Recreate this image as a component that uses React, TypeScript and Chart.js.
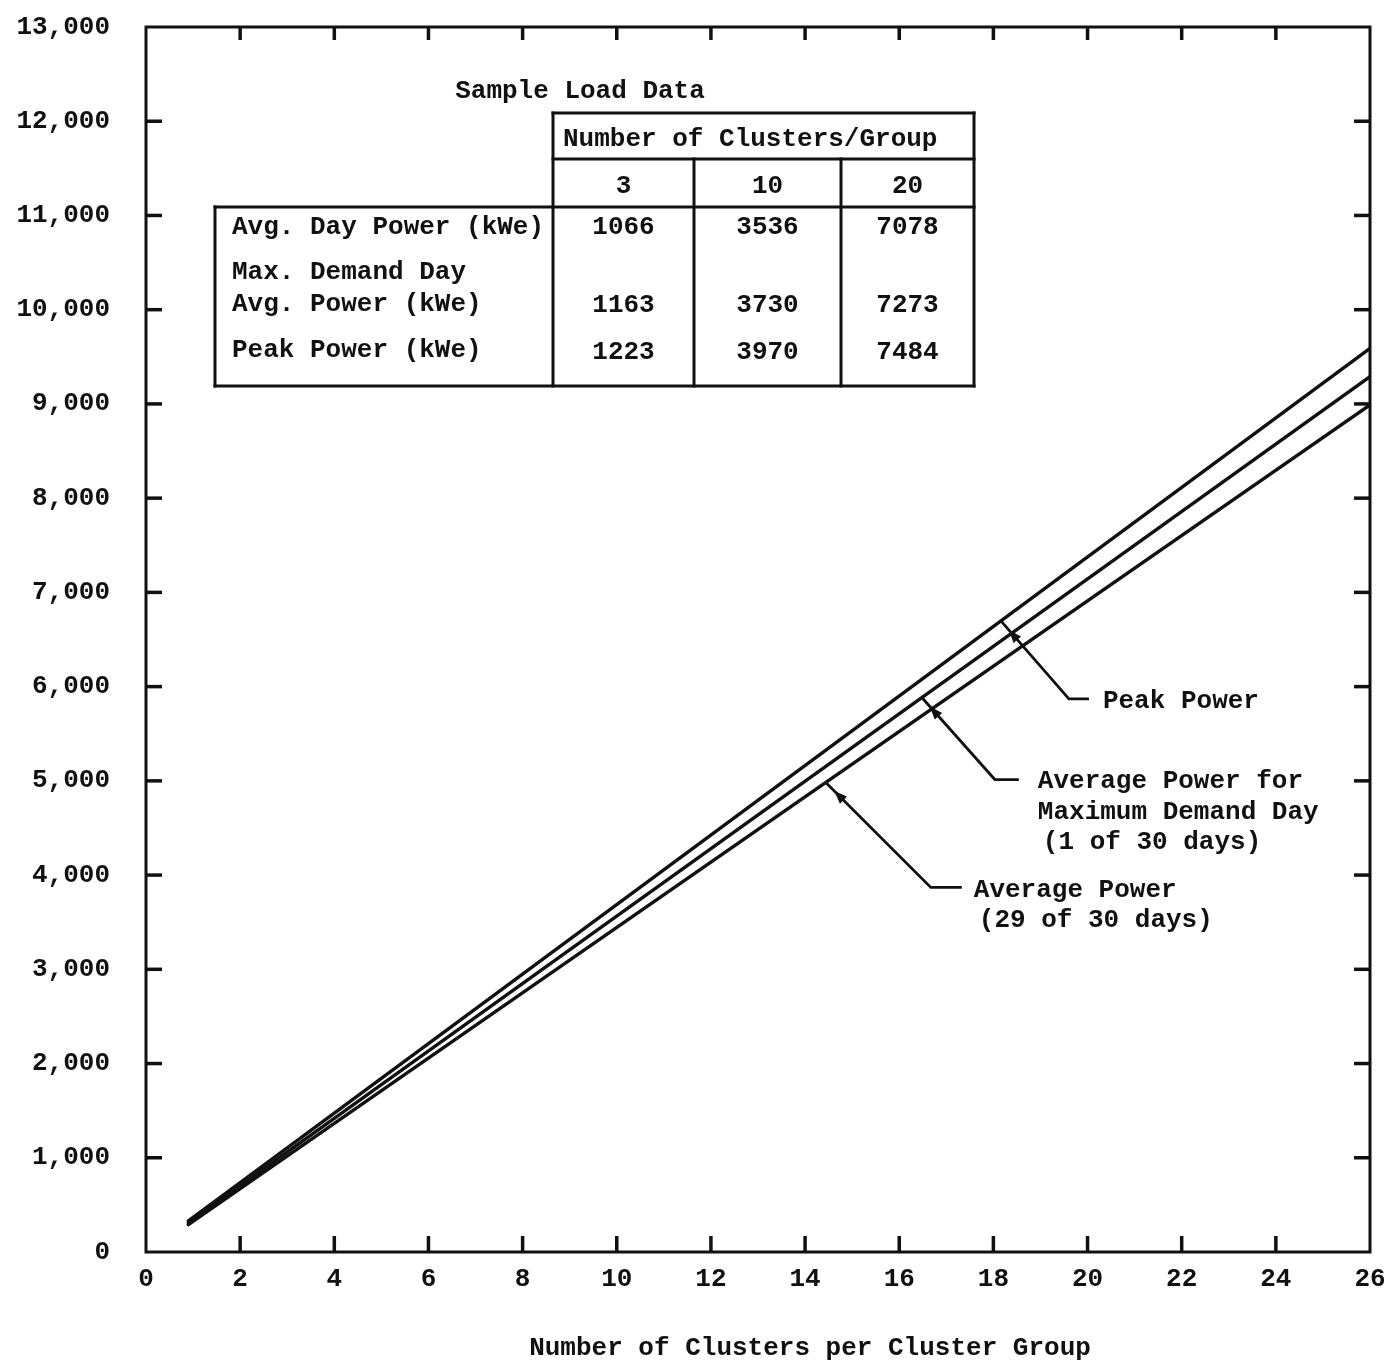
import { useEffect, useRef } from 'react';
import { Chart, registerables } from 'chart.js';

Chart.register(...registerables);

// ---- data -------------------------------------------------------------
const clusterRange = [0.9, 26];
const peakPower = [330, 9590];
const maxDemandDayPower = [310, 9290];
const averagePower = [290, 8990];

const xTitle = 'Number of Clusters per Cluster Group';

const tableTitle = 'Sample Load Data';
const tableHeader = 'Number of Clusters/Group';
const tableClusters = ['3', '10', '20'];
const tableRowLabels = [['Avg. Day Power (kWe)'], ['Max. Demand Day', 'Avg. Power (kWe)'], ['Peak Power (kWe)']];
const avgDayPowerRow = [1066, 3536, 7078];
const maxDemandDayRow = [1163, 3730, 7273];
const peakPowerRow = [1223, 3970, 7484];

const calloutLabels = [
  ['Peak Power'],
  ['Average Power for', 'Maximum Demand Day', '(1 of 30 days)'],
  ['Average Power', '(29 of 30 days)'],
];
const calloutAt = [18.16, 16.48, 14.44];

// ---- styling ----------------------------------------------------------
const W = 1384;
const H = 1364;
const INK = '#111';
const FONT = '"Liberation Mono", "DejaVu Sans Mono", monospace';
const FONT_CSS = `bold 26px ${FONT}`;
const TICK = 16;

const seriesValues = [peakPower, maxDemandDayPower, averagePower];

const toPoints = (vals: number[]) => clusterRange.map((x, i) => ({ x, y: vals[i] }));

const valueAt = (vals: number[], x: number) => {
  const [x0, x1] = clusterRange;
  return vals[0] + ((vals[1] - vals[0]) * (x - x0)) / (x1 - x0);
};

// leader geometry: elbow offset, horizontal run end, text offsets per line
const calloutShape = [
  { dx: 68, dy: 78, run: 20, tx: 14, ty: [3], lx: [0] },
  { dx: 73, dy: 82, run: 24, tx: 19, ty: [2, 33, 63], lx: [0, 0, 5] },
  { dx: 105, dy: 105, run: 31, tx: 12, ty: [3, 33], lx: [0, 5] },
];

const line = (ctx: CanvasRenderingContext2D, x1: number, y1: number, x2: number, y2: number) => {
  ctx.beginPath();
  ctx.moveTo(x1, y1);
  ctx.lineTo(x2, y2);
  ctx.stroke();
};

// the axis boxes keep fixed sizes, and label overhang is not reserved
const fixBox = (size: { width?: number; height?: number }) => (scale: any) => {
  if (size.width !== undefined) scale.width = size.width;
  if (size.height !== undefined) scale.height = size.height;
  scale.paddingTop = 0;
  scale.paddingBottom = 0;
  scale.paddingLeft = 0;
  scale.paddingRight = 0;
};

const paperPlugin = {
  id: 'paperFrame',
  afterDraw(chart: any) {
    const { ctx, chartArea: a, scales } = chart;
    const xs = scales.x;
    const ys = scales.y;
    ctx.save();
    ctx.strokeStyle = INK;
    ctx.fillStyle = INK;
    ctx.lineWidth = 3;
    ctx.lineCap = 'square';

    // frame
    ctx.strokeRect(a.left, a.top, a.right - a.left, a.bottom - a.top);

    // inward ticks on all four sides
    ctx.lineCap = 'butt';
    ctx.lineWidth = 3.5;
    xs.ticks.forEach((t: any) => {
      if (t.value <= xs.min || t.value >= xs.max) return;
      const px = xs.getPixelForValue(t.value);
      line(ctx, px, a.bottom, px, a.bottom - TICK);
      line(ctx, px, a.top, px, a.top + TICK - 3);
    });
    ys.ticks.forEach((t: any) => {
      if (t.value <= ys.min || t.value >= ys.max) return;
      const py = ys.getPixelForValue(t.value);
      line(ctx, a.left, py, a.left + TICK, py);
      line(ctx, a.right, py, a.right - TICK, py);
    });

    ctx.font = FONT_CSS;
    ctx.textBaseline = 'middle';

    // axis title
    ctx.textAlign = 'center';
    ctx.fillText(xTitle, (a.left + a.right) / 2 + 52, H - 16);

    // sample load table
    const colX = [553, 694, 841, 974];
    const left = 215;
    const top = 113;
    const midRule = 159;
    const headRule = 207;
    const bottom = 386;
    ctx.lineWidth = 3;
    ctx.lineCap = 'square';
    line(ctx, colX[0], top, colX[3], top);
    line(ctx, colX[0], midRule, colX[3], midRule);
    line(ctx, left, headRule, colX[3], headRule);
    line(ctx, left, bottom, colX[3], bottom);
    line(ctx, left, headRule, left, bottom);
    line(ctx, colX[0], top, colX[0], bottom);
    line(ctx, colX[1], midRule, colX[1], bottom);
    line(ctx, colX[2], midRule, colX[2], bottom);
    line(ctx, colX[3], top, colX[3], bottom);

    ctx.textAlign = 'center';
    ctx.fillText(tableTitle, 580, 91);
    ctx.textAlign = 'left';
    ctx.fillText(tableHeader, 563, 139);

    const colCenters = [0, 1, 2].map((i) => (colX[i] + colX[i + 1]) / 2);
    ctx.textAlign = 'center';
    tableClusters.forEach((c, i) => ctx.fillText(c, colCenters[i], 186));
    const rows = [avgDayPowerRow, maxDemandDayRow, peakPowerRow];
    const rowY = [227, 305, 352];
    rows.forEach((r, ri) => r.forEach((v, ci) => ctx.fillText(String(v), colCenters[ci], rowY[ri])));

    ctx.textAlign = 'left';
    const labelY = [[227], [272, 304], [350]];
    tableRowLabels.forEach((ls, ri) => ls.forEach((s, li) => ctx.fillText(s, 232, labelY[ri][li])));

    // callouts with leader arrows
    calloutLabels.forEach((lines, i) => {
      const xv = calloutAt[i];
      const ax = xs.getPixelForValue(xv);
      const ay = ys.getPixelForValue(valueAt(seriesValues[i], xv));
      const s = calloutShape[i];
      const ex = ax + s.dx;
      const ey = ay + s.dy;
      const rx = ex + s.run;
      ctx.lineWidth = 2.8;
      ctx.lineCap = 'butt';
      ctx.beginPath();
      ctx.moveTo(rx, ey);
      ctx.lineTo(ex, ey);
      ctx.lineTo(ax, ay);
      ctx.stroke();
      // arrowhead pointing at the curve
      const len = Math.hypot(ax - ex, ay - ey);
      const ux = (ax - ex) / len;
      const uy = (ay - ey) / len;
      const tipX = ax - ux * 12;
      const tipY = ay - uy * 12;
      const bx = tipX - ux * 13;
      const by = tipY - uy * 13;
      ctx.beginPath();
      ctx.moveTo(tipX, tipY);
      ctx.lineTo(bx - uy * 5, by + ux * 5);
      ctx.lineTo(bx + uy * 5, by - ux * 5);
      ctx.closePath();
      ctx.fill();
      ctx.textAlign = 'left';
      lines.forEach((t, li) => ctx.fillText(t, rx + s.tx + s.lx[li], ey + s.ty[li]));
    });

    ctx.restore();
  },
};

export default function App() {
  const ref = useRef<HTMLCanvasElement>(null);

  useEffect(() => {
    const canvas = ref.current;
    if (!canvas) return;
    const tickFont = { family: FONT, size: 26, weight: 'bold' as const };
    const chart = new Chart(canvas, {
      type: 'line',
      data: {
        datasets: [
          { label: 'Peak Power', data: toPoints(peakPower) },
          { label: 'Average Power for Maximum Demand Day', data: toPoints(maxDemandDayPower) },
          { label: 'Average Power', data: toPoints(averagePower) },
        ].map((d) => ({
          ...d,
          borderColor: INK,
          borderWidth: 3.4,
          pointRadius: 0,
          tension: 0,
          fill: false,
          borderCapStyle: 'round' as const,
        })),
      },
      options: {
        responsive: false,
        animation: false,
        devicePixelRatio: 1,
        layout: { padding: { top: 27, right: 14, bottom: 0, left: 0 } },
        plugins: { legend: { display: false }, tooltip: { enabled: false } },
        scales: {
          x: {
            type: 'linear',
            min: 0,
            max: 26,
            grid: { display: false, drawTicks: false },
            border: { display: false },
            ticks: { stepSize: 2, color: INK, font: tickFont, padding: 12, maxRotation: 0 },
            afterFit: fixBox({ height: 112 }),
          },
          y: {
            type: 'linear',
            min: 0,
            max: 13000,
            grid: { display: false, drawTicks: false },
            border: { display: false },
            ticks: {
              stepSize: 1000,
              color: INK,
              font: tickFont,
              padding: 36,
              callback: (v: any) => (Number(v) === 0 ? '0' : Number(v).toLocaleString('en-US')),
            },
            afterFit: fixBox({ width: 146 }),
          },
        },
      },
      plugins: [paperPlugin],
    });
    return () => chart.destroy();
  }, []);

  return (
    <div style={{ position: 'absolute', left: 0, top: 0, width: W, height: H, background: '#fff' }}>
      <canvas ref={ref} width={W} height={H} style={{ display: 'block', width: W, height: H }} />
    </div>
  );
}
